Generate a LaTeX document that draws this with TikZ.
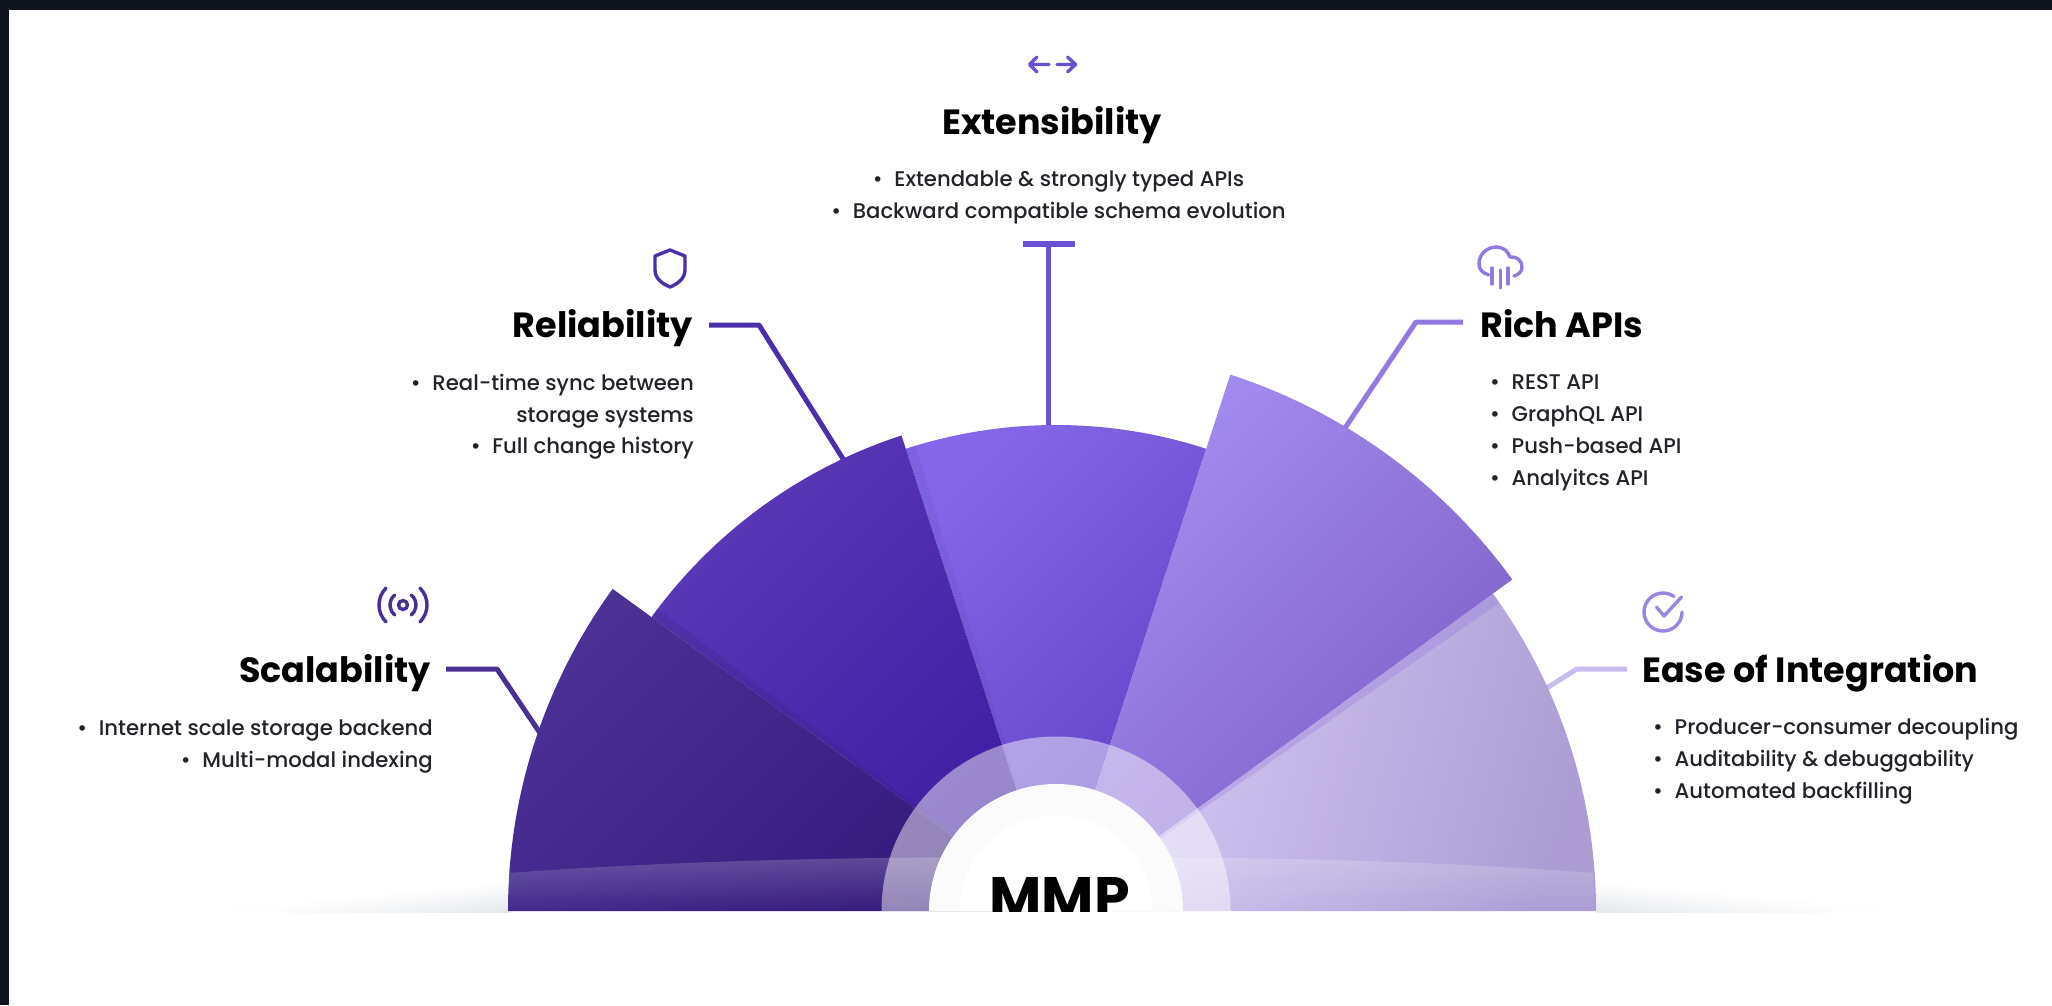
\documentclass[tikz,border=0pt]{standalone}
\usepackage{fontspec}
\setmainfont{Poppins Medium}
\newfontfamily\titlefont{Poppins}[UprightFont=* Bold]
\usetikzlibrary{fadings}
\definecolor{frame}{HTML}{10141F}
\definecolor{bodyc}{HTML}{22222A}
\definecolor{cscal}{HTML}{4B3094}
\definecolor{crel}{HTML}{4A2EAA}
\definecolor{cext}{HTML}{6A4FD0}
\definecolor{crich}{HTML}{9179E0}
\definecolor{cease}{HTML}{C8BBEE}
\definecolor{ccheck}{HTML}{9A84E4}
\definecolor{seaA}{HTML}{D8CCF7}\definecolor{seaB}{HTML}{AC9ED4}
\definecolor{sexA}{HTML}{8467E8}\definecolor{sexB}{HTML}{5E40C4}
\definecolor{sreA}{HTML}{5A38B6}\definecolor{sreB}{HTML}{3D1CA0}
\definecolor{sscA}{HTML}{4B3196}\definecolor{sscB}{HTML}{33197A}
\definecolor{sriA}{HTML}{A48DF1}\definecolor{sriB}{HTML}{7A5CC4}
\definecolor{floorc}{HTML}{E4E7EC}
\tikzfading[name=bandfade, top color=transparent!80, bottom color=transparent!100]
\tikzset{
  titletext/.style={inner sep=0pt, font=\titlefont\fontsize{35}{35}\selectfont, text=black},
  bodytext/.style={inner sep=0pt, font=\fontsize{21.2}{21.2}\selectfont, text=bodyc},
  leader/.style={line width=5pt, line join=round},
  iconline/.style={line width=3.4pt, line cap=round, line join=round},
}
\newcommand{\bl}{•\hspace{0.55em}}
\newcommand{\sector}[6][45]{% [shading angle] from, to, radius, colA, colB
  \path[left color=#5, right color=#6, shading angle=#1]
    (0,0) -- (#2:#4) arc[start angle=#2, end angle=#3, radius=#4] -- cycle;}
\newcommand{\edgeshade}[4]{% from, to, radius, colour+opacity
  \fill[#4] (0,0) -- (#1:#3) arc[start angle=#1, end angle=#2, radius=#3] -- cycle;}
\begin{document}
\begin{tikzpicture}[x=1pt,y=-1pt]
\useasboundingbox (0,0) rectangle (2052,1005);
\fill[white] (0,0) rectangle (2052,1005);
\fill[frame] (0,0) rectangle (2052,10);
\fill[frame] (0,0) rectangle (9,1005);
% soft floor line, fading away from the fan on both sides
\foreach \i in {0,...,39}{
  \pgfmathsetmacro{\tt}{\i/39}
  \pgfmathsetmacro{\pp}{int(100*\tt^1.5)}
  \pgfmathsetmacro{\ytop}{908-26*\tt}
  \pgfmathsetmacro{\xl}{190+8*\i}
  \pgfmathsetmacro{\xr}{1927-8.25*\i}
  \shade[top color=white, bottom color=floorc!\pp!white, draw=none] (\xl,\ytop) rectangle (\xl+8.5,912);
  \shade[top color=white, bottom color=floorc!\pp!white, draw=none] (\xr,\ytop) rectangle (\xr-8.75,912);
}
% leaders
\coordinate (scA) at (446,669); \coordinate (scB) at (497,669); \coordinate (scC) at (540,733);
\coordinate (reA) at (709,325); \coordinate (reB) at (759,325); \coordinate (reC) at (845,462);
\coordinate (exA) at (1023,244); \coordinate (exB) at (1075,244); \coordinate (exM) at (1048,244); \coordinate (exC) at (1048,428);
\coordinate (riA) at (1463,322); \coordinate (riB) at (1416,322); \coordinate (riC) at (1345,428);
\coordinate (eaA) at (1627,669); \coordinate (eaB) at (1577,669); \coordinate (eaC) at (1545,689);
\draw[leader, cscal] (scA) -- (scB) -- (scC);
\draw[leader, crel] (reA) -- (reB) -- (reC);
\draw[line width=5.5pt, cext] (exA) -- (exB);
\draw[leader, cext] (exM) -- (exC);
\draw[leader, crich] (riA) -- (riB) -- (riC);
\draw[leader, cease] (eaA) -- (eaB) -- (eaC);
% fan
\begin{scope}[shift={(1056,911)}, x=1pt, y=1pt]
  \sector[75]{0}{36}{540}{seaA}{seaB}
  \edgeshade{34.8}{36}{540}{crich, opacity=.3}
  \sector{72}{108}{486}{sexA}{sexB}
  \edgeshade{70.6}{72}{486}{cext!75!black, opacity=.3}
  \edgeshade{106.8}{108}{486}{cext!75!black, opacity=.12}
  \sector{108}{144}{500}{sreA}{sreB}
  \edgeshade{142.8}{144}{500}{crel!70!black, opacity=.2}
  \sector{144}{180}{548}{sscA}{sscB}
  \sector{36}{72}{564}{sriA}{sriB}
\end{scope}
% light band along the base
\fill[white, path fading=bandfade]
  (509,873) .. controls (700,859) and (880,857) .. (1056,857)
  .. controls (1232,857) and (1410,859) .. (1595,873) -- (1596,911) -- (508,911) -- cycle;
% hub
\begin{scope}[shift={(1056,911)}, x=1pt, y=1pt]
  \fill[white, opacity=.47] (-174.5,0) arc[start angle=180, end angle=0, radius=174.5] -- cycle;
  \fill[white!98.5!black] (-127,0) arc[start angle=180, end angle=0, radius=127] -- cycle;
  \fill[white] (-96,0) arc[start angle=180, end angle=0, radius=96] -- cycle;
\end{scope}
\begin{scope}
  \clip (900,860) rectangle (1210,911.5);
  \node[inner sep=0pt, anchor=base, font=\titlefont\fontsize{57}{57}\selectfont, text=black] (mmp) at (1059.5,917) {MMP};
\end{scope}
% titles
\node[titletext, anchor=base] (tex) at (1052,134) {Extensibility};
\node[titletext, anchor=base east] (tre) at (693,337) {Reliability};
\node[titletext, anchor=base east] (tsc) at (431,682) {Scalability};
\node[titletext, anchor=base west] (tri) at (1480,337.5) {Rich APIs};
\node[titletext, anchor=base west] (tea) at (1642,682) {Ease of Integration};
% bullets
\node[bodytext, anchor=base] (ex1) at (1058.5,186) {\bl Extendable \& strongly typed APIs};
\node[bodytext, anchor=base] (ex2) at (1058.5,218) {\bl Backward compatible schema evolution};
\node[bodytext, anchor=base east] (re1) at (694,390) {\bl Real-time sync between};
\node[bodytext, anchor=base east] (re2) at (694,422) {storage systems};
\node[bodytext, anchor=base east] (re3) at (694,453) {\bl Full change history};
\node[bodytext, anchor=base east] (sc1) at (433,735) {\bl Internet scale storage backend};
\node[bodytext, anchor=base east] (sc2) at (433,767) {\bl Multi-modal indexing};
\node[bodytext, anchor=base west] (ri1) at (1490,389) {\bl REST API};
\node[bodytext, anchor=base west] (ri2) at (1490,421) {\bl GraphQL API};
\node[bodytext, anchor=base west] (ri3) at (1490,453) {\bl Push-based API};
\node[bodytext, anchor=base west] (ri4) at (1490,485) {\bl Analyitcs API};
\node[bodytext, anchor=base west] (ea1) at (1653,734) {\bl Producer-consumer decoupling};
\node[bodytext, anchor=base west] (ea2) at (1653,766) {\bl Auditability \& debuggability};
\node[bodytext, anchor=base west] (ea3) at (1653,798) {\bl Automated backfilling};
% icon: arrows
\draw[iconline, cext] (1049,64.5) -- (1030,64.5) (1037,57) -- (1029.5,64.5) -- (1037,72);
\draw[iconline, cext] (1057,64.5) -- (1075,64.5) (1067.5,57) -- (1075.5,64.5) -- (1067.5,72);
% icon: shield
\draw[iconline, crel] (670,250) -- (685,256) -- (685,270) .. controls (685,279) and (677,284) .. (670,287)
  .. controls (663,284) and (655,279) .. (655,270) -- (655,256) -- cycle;
% icon: signal
\begin{scope}[shift={(403,605)}, x=1pt, y=1pt]
  \draw[iconline, cscal] (0,0) circle[radius=4.5];
  \draw[iconline, cscal] (130:13) arc[start angle=130, end angle=230, radius=13];
  \draw[iconline, cscal] (50:13) arc[start angle=50, end angle=-50, radius=13];
  \draw[iconline, cscal] (135:24) arc[start angle=135, end angle=225, radius=24];
  \draw[iconline, cscal] (45:24) arc[start angle=45, end angle=-45, radius=24];
\end{scope}
% icon: cloud
\draw[iconline, crich] (1488.6,275) .. controls (1483,273) and (1479,270) .. (1479,264)
  .. controls (1479,254) and (1487,247) .. (1496.5,247)
  .. controls (1503,247) and (1508,251) .. (1510,257)
  .. controls (1517,256) and (1522,261) .. (1522,267)
  .. controls (1522,272) and (1518,275) .. (1514,276);
\draw[iconline, crich] (1492,268) -- (1492,284) (1500.6,270) -- (1500.6,288) (1508,268) -- (1508,284);
% icon: check
\begin{scope}[shift={(1663,612)}, x=1pt, y=1pt]
  \draw[iconline, ccheck] (55:19) arc[start angle=55, end angle=360, radius=19];
  \draw[iconline, ccheck] (-6.5,5) -- (1,-4) -- (18.5,15);
\end{scope}
\end{tikzpicture}
\end{document}
